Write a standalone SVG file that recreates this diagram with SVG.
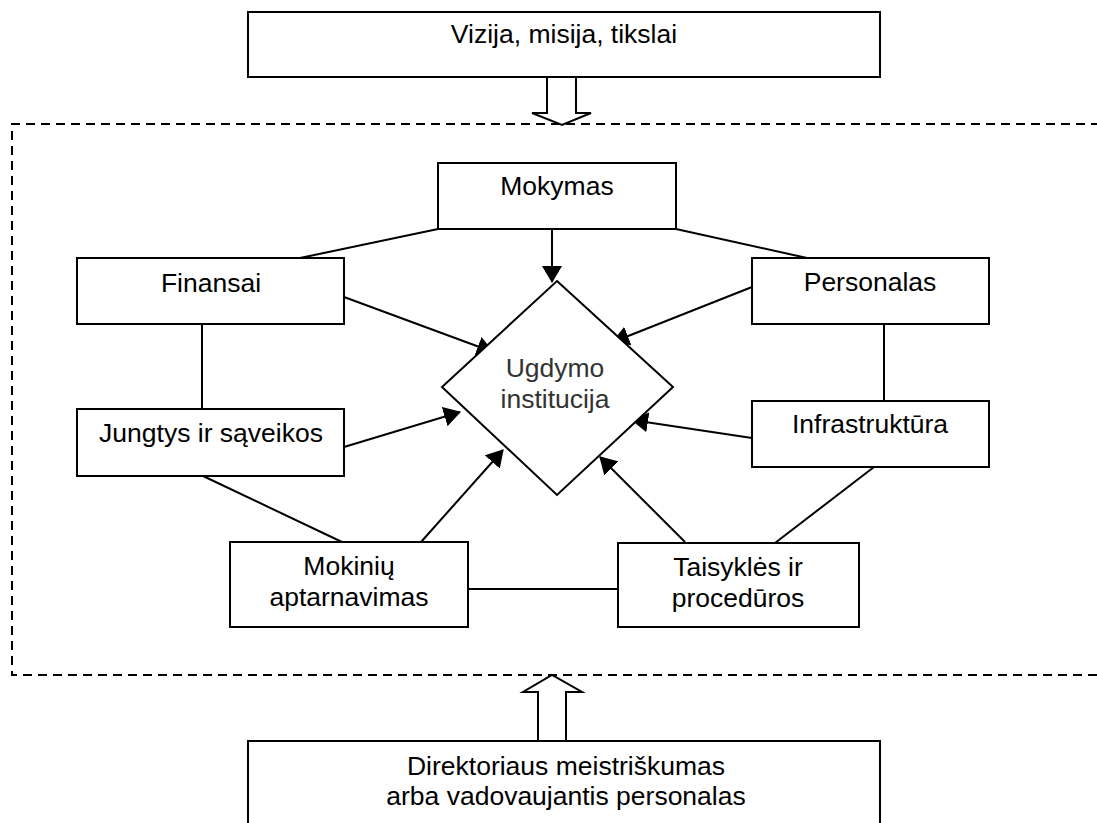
<svg xmlns="http://www.w3.org/2000/svg" width="1097" height="823" viewBox="0 0 1097 823">
<style>
.box{fill:#fff;stroke:#000;stroke-width:2}
.lbl{font-family:"Liberation Sans",Arial,sans-serif;font-size:26.5px;fill:#000;text-anchor:middle}
.dia{font-family:"Liberation Sans",Arial,sans-serif;font-size:26.5px;fill:#333;text-anchor:middle}
.ln{stroke:#000;stroke-width:2;fill:none}
.ar{stroke:#000;stroke-width:2;fill:none;marker-end:url(#ah)}
.hollow{fill:#fff;stroke:#000;stroke-width:2;stroke-linejoin:miter}
</style>
<defs>
<marker id="ah" viewBox="0 0 17 20" refX="16" refY="10" markerWidth="17" markerHeight="20" orient="auto" markerUnits="userSpaceOnUse">
<path d="M0,0 L17,10 L0,20 z" fill="#000"/>
</marker>
</defs>
<rect width="1097" height="823" fill="#fff"/>

<g id="frame">
<path d="M1100,124 L12,124 L12,675 L1100,675" fill="none" stroke="#000" stroke-width="2" stroke-dasharray="9 6"/>
</g>

<g id="connectors">
<line class="ln" x1="300" y1="258" x2="438" y2="229"/>
<line class="ln" x1="807" y1="258" x2="676" y2="229"/>
<line class="ln" x1="202" y1="324" x2="202" y2="409"/>
<line class="ln" x1="884" y1="324" x2="884" y2="401"/>
<line class="ln" x1="203" y1="476" x2="342" y2="542"/>
<line class="ln" x1="874" y1="467" x2="775" y2="543"/>
<line class="ln" x1="468" y1="589" x2="618" y2="589"/>
<line class="ar" x1="552" y1="229" x2="552" y2="282"/>
<line class="ar" x1="344" y1="297" x2="493" y2="352"/>
<line class="ar" x1="752" y1="287" x2="613" y2="342"/>
<line class="ar" x1="344" y1="447" x2="460" y2="412"/>
<line class="ar" x1="752" y1="438" x2="632" y2="420"/>
<line class="ar" x1="421" y1="542" x2="503" y2="450"/>
<line class="ar" x1="685" y1="542" x2="600" y2="457"/>
<polygon class="hollow" points="547,77 576,77 576,113 591,113 562,125 532,113 547,113"/>
<polygon class="hollow" points="538,741 538,692 523,692 552,675 582,692 566,692 566,741"/>
</g>

<g id="vizija">
<rect class="box" x="248" y="12" width="632" height="65"/>
<text class="lbl" x="564" y="43">Vizija, misija, tikslai</text>
</g>

<g id="mokymas">
<rect class="box" x="438" y="163" width="238" height="66"/>
<text class="lbl" x="557" y="195">Mokymas</text>
</g>

<g id="finansai">
<rect class="box" x="77" y="258" width="267" height="66"/>
<text class="lbl" x="211" y="292">Finansai</text>
</g>

<g id="personalas">
<rect class="box" x="752" y="258" width="237" height="66"/>
<text class="lbl" x="870" y="291">Personalas</text>
</g>

<g id="ugdymo">
<polygon class="box" points="557,281 673,387 557,495 442,387"/>
<text class="dia" x="555" y="377">Ugdymo</text>
<text class="dia" x="555" y="408">institucija</text>
</g>

<g id="jungtys">
<rect class="box" x="77" y="409" width="267" height="67"/>
<text class="lbl" x="211" y="442">Jungtys ir sąveikos</text>
</g>

<g id="infrastruktura">
<rect class="box" x="752" y="401" width="237" height="66"/>
<text class="lbl" x="870" y="433">Infrastruktūra</text>
</g>

<g id="mokiniu">
<rect class="box" x="230" y="542" width="238" height="85"/>
<text class="lbl" x="349" y="575">Mokinių</text>
<text class="lbl" x="349" y="606">aptarnavimas</text>
</g>

<g id="taisykles">
<rect class="box" x="618" y="543" width="241" height="84"/>
<text class="lbl" x="738" y="576">Taisyklės ir</text>
<text class="lbl" x="738" y="607">procedūros</text>
</g>

<g id="direktorius">
<rect class="box" x="248" y="741" width="632" height="100"/>
<text class="lbl" x="566" y="775">Direktoriaus meistriškumas</text>
<text class="lbl" x="566" y="805">arba vadovaujantis personalas</text>
</g>
</svg>
